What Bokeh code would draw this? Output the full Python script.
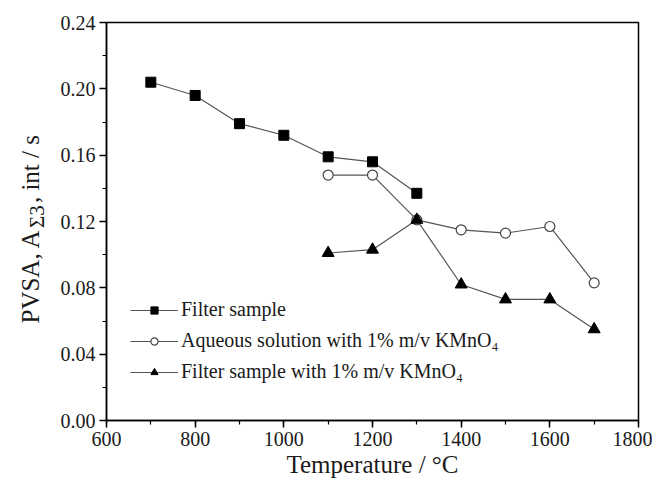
import math
from bokeh.plotting import figure
from bokeh.layouts import row
from bokeh.models import (FixedTicker, Legend, LegendItem, Label,
                          NumeralTickFormatter, Range1d)
from bokeh.embed import file_html
from bokeh.resources import INLINE

# ---- data ----
temp_filter = [700, 800, 900, 1000, 1100, 1200, 1300]
pvsa_filter = [0.204, 0.196, 0.179, 0.172, 0.159, 0.156, 0.137]

temp_aq = [1100, 1200, 1300, 1400, 1500, 1600, 1700]
pvsa_aq = [0.148, 0.148, 0.121, 0.115, 0.113, 0.117, 0.083]

temp_fk = [1100, 1200, 1300, 1400, 1500, 1600, 1700]
pvsa_fk = [0.101, 0.103, 0.121, 0.082, 0.073, 0.073, 0.055]

series_names = ["Filter sample",
                "Aqueous solution with 1% m/v KMnO\u2084",
                "Filter sample with 1% m/v KMnO\u2084"]
x_ticks = [600, 800, 1000, 1200, 1400, 1600, 1800]
y_ticks = [0.00, 0.04, 0.08, 0.12, 0.16, 0.20, 0.24]
x_label = "Temperature / \u00b0C"
y_label_parts = ["PVSA, A", "\u03a33", ", int / s"]

FONT = "Liberation Serif"
LINE_COL = "#555555"
TXT = "#1a1a1a"
H = 480
LW = 56  # width of the strip that carries the y-axis title

p = figure(width=652 - LW, height=H, output_backend="svg", toolbar_location=None,
           x_range=Range1d(600, 1800), y_range=Range1d(0, 0.24),
           min_border_left=106 - LW, min_border_right=14, min_border_top=22, min_border_bottom=55)
p.grid.visible = False
p.outline_line_color = "black"
p.outline_line_width = 1.5
p.background_fill_color = "white"
p.border_fill_color = "white"

# series
r1l = p.line(temp_filter, pvsa_filter, line_color=LINE_COL, line_width=1.2)
r1m = p.scatter(temp_filter, pvsa_filter, marker="square", size=10, fill_color="black", line_color="black")

r2l = p.line(temp_aq, pvsa_aq, line_color=LINE_COL, line_width=1.2)
r2m = p.scatter(temp_aq, pvsa_aq, marker="circle", size=10, fill_color="white", line_color="#444444", line_width=1.2)

r3l = p.line(temp_fk, pvsa_fk, line_color=LINE_COL, line_width=1.2)
r3m = p.scatter(temp_fk, pvsa_fk, marker="triangle", size=12, fill_color="black", line_color="black")

# axes
for ax in (p.xaxis[0], p.yaxis[0]):
    ax.axis_line_color = "black"
    ax.axis_line_width = 1.5
    ax.major_tick_line_color = "black"
    ax.major_tick_line_width = 1.5
    ax.minor_tick_line_color = "black"
    ax.minor_tick_line_width = 1.2
    ax.major_tick_in = 0
    ax.major_tick_out = 7
    ax.minor_tick_in = 0
    ax.minor_tick_out = 4
    ax.major_label_text_font = FONT
    ax.major_label_text_font_size = "20px"
    ax.major_label_text_color = TXT
    ax.axis_label_text_font = FONT
    ax.axis_label_text_font_size = "25px"
    ax.axis_label_text_font_style = "normal"
    ax.axis_label_text_color = TXT

p.xaxis[0].ticker = FixedTicker(ticks=x_ticks, minor_ticks=list(range(600, 1801, 100)))
p.yaxis[0].ticker = FixedTicker(ticks=y_ticks, minor_ticks=[i * 0.02 for i in range(13)])
p.yaxis[0].formatter = NumeralTickFormatter(format="0.00")
p.xaxis[0].axis_label = x_label
p.xaxis[0].major_label_standoff = 4
p.xaxis[0].axis_label_standoff = 2
p.yaxis[0].major_label_standoff = 4

legend = Legend(items=[
    LegendItem(label=series_names[0], renderers=[r1l, r1m]),
    LegendItem(label=series_names[1], renderers=[r2l, r2m]),
    LegendItem(label=series_names[2], renderers=[r3l, r3m]),
], location=(24, 37))
legend.label_text_font = FONT
legend.label_text_font_size = "20px"
legend.label_text_color = TXT
legend.glyph_width = 48
legend.glyph_height = 18
legend.label_height = 20
legend.label_standoff = 3
legend.spacing = 8
legend.padding = 0
legend.margin = 0
legend.border_line_alpha = 0
legend.background_fill_alpha = 0
p.add_layout(legend, "center")

# ---- strip on the left carrying the y-axis title (with subscript) ----
t = figure(width=LW, height=H, output_backend="svg", toolbar_location=None,
           x_range=Range1d(0, 1), y_range=Range1d(0, 1),
           x_axis_type=None, y_axis_type=None,
           min_border_left=0, min_border_right=0, min_border_top=0, min_border_bottom=0)
t.grid.visible = False
t.outline_line_color = None
t.background_fill_color = "white"
t.border_fill_color = "white"

fs_main, fs_sub = 25, 21
base_x = 30          # pixels from the strip frame's left edge
start_y = 97         # pixels from the strip frame's bottom edge
w1 = 3.778 * fs_main   # width of "PVSA, A"
w2 = 1.092 * fs_sub    # width of the subscript
lab_kw = dict(angle=math.pi / 2, text_font=FONT, text_color=TXT,
              x_units="screen", y_units="screen",
              text_align="left", text_baseline="alphabetic")
t.add_layout(Label(x=base_x, y=start_y, text=y_label_parts[0],
                   text_font_size=f"{fs_main}px", **lab_kw))
t.add_layout(Label(x=base_x + 6, y=start_y + w1 + 1, text=y_label_parts[1],
                   text_font_size=f"{fs_sub}px", **lab_kw))
t.add_layout(Label(x=base_x, y=start_y + w1 + w2 + 3, text=y_label_parts[2],
                   text_font_size=f"{fs_main}px", **lab_kw))

layout = row(t, p, spacing=0)
open("out.html", "w").write(file_html(layout, INLINE))
